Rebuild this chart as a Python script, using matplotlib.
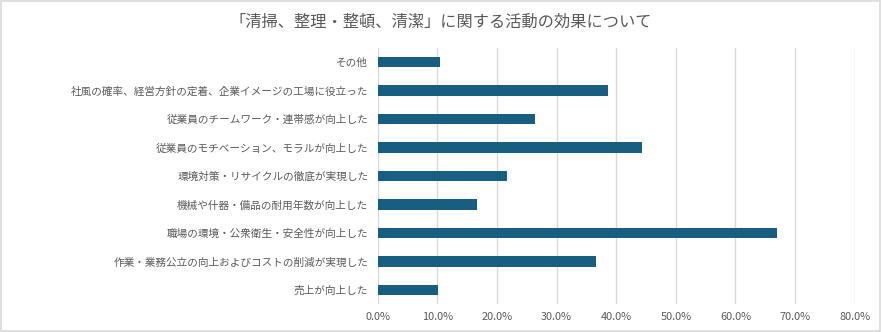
import matplotlib
matplotlib.use("Agg")
import matplotlib.pyplot as plt
from matplotlib.patches import Rectangle
from matplotlib.ticker import FuncFormatter

plt.rcParams['font.family'] = ['Noto Sans CJK JP', 'DejaVu Sans']

# 項目（上から順）と割合
categories = [
    "その他",
    "社風の確率、経営方針の定着、企業イメージの工場に役立った",
    "従業員のチームワーク・連帯感が向上した",
    "従業員のモチベーション、モラルが向上した",
    "環境対策・リサイクルの徹底が実現した",
    "機械や什器・備品の耐用年数が向上した",
    "職場の環境・公衆衛生・安全性が向上した",
    "作業・業務公立の向上およびコストの削減が実現した",
    "売上が向上した",
]
values = [0.104, 0.387, 0.264, 0.443, 0.217, 0.166, 0.670, 0.366, 0.101]
xticks = [0.0, 0.1, 0.2, 0.3, 0.4, 0.5, 0.6, 0.7, 0.8]

title = "「清掃、整理・整頓、清潔」に関する活動の効果について"
gris = "#595959"
barColor = "#175E81"

fig = plt.figure(figsize=(8.82, 3.32), dpi=100)
ax = fig.add_axes([377.7 / 882, 0.0836, 477.0 / 882, 0.7726])

y = list(range(len(categories)))
ax.barh(y, values, height=0.36, color=barColor, zorder=3)

ax.set_ylim(len(categories) - 0.5, -0.5)
ax.set_yticks(y)
ax.set_yticklabels(categories, fontsize=7.65, color=gris)
ax.set_xlim(0, 0.8)
ax.set_xticks(xticks)
ax.xaxis.set_major_formatter(FuncFormatter(lambda v, p: "%.1f%%" % (v * 100)))
for lab in ax.get_xticklabels():
    lab.set_fontsize(7.9)
    lab.set_color(gris)

ax.tick_params(axis='y', length=0, pad=6.8)
ax.tick_params(axis='x', length=0, pad=5.5)
ax.grid(axis='x', color='#D9D9D9', linewidth=1, zorder=0)
for s in ax.spines.values():
    s.set_visible(False)

fig.text(0.5, 1 - 22 / 332, title, ha='center', va='center', fontsize=11.7, color=gris)

# bordo del grafico
fig.patches.append(Rectangle((0.001, 0.002), 0.997, 0.995, transform=fig.transFigure,
                             fill=False, edgecolor='#D9D9D9', linewidth=1.2))

fig.savefig("out.png", dpi=100)
